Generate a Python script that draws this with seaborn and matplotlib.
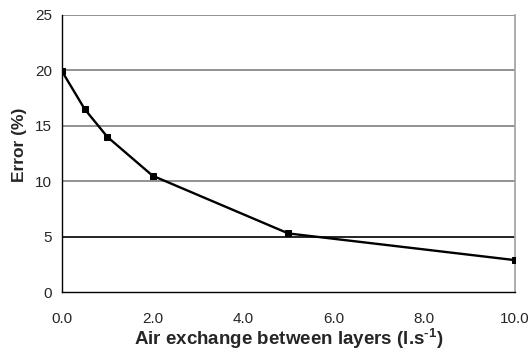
import matplotlib
matplotlib.use("Agg")
import matplotlib.pyplot as plt
import seaborn as sns
import pandas as pd

# Air exchange between layers (l/s) vs. resulting error (%)
air_exchange = [0.0, 0.5, 1.0, 2.0, 5.0, 10.0]
error_pct = [19.9, 16.5, 14.0, 10.5, 5.3, 2.9]

x_ticks = [0.0, 2.0, 4.0, 6.0, 8.0, 10.0]
y_ticks = [0, 5, 10, 15, 20, 25]

df = pd.DataFrame({"air": air_exchange, "error": error_pct})

sns.set_style("white")
plt.rcParams["font.family"] = ["Liberation Sans", "DejaVu Sans"]
plt.rcParams["mathtext.fontset"] = "custom"
plt.rcParams["mathtext.rm"] = "Liberation Sans:bold"
plt.rcParams["mathtext.bf"] = "Liberation Sans:bold"

fig = plt.figure(figsize=(5.31, 3.54), dpi=100)
ax = fig.add_axes([0.1168, 0.1743, 0.9693 - 0.1168, 0.9585 - 0.1743])

# horizontal gridlines
for v in y_ticks[1:]:
    ax.axhline(v, color="black" if v == 5 else "#7f7f7f", lw=1.2, zorder=1)

sns.lineplot(data=df, x="air", y="error", ax=ax, color="black", lw=1.7,
             marker="s", markersize=4.6, markeredgecolor="black", zorder=3)

ax.set_xlim(0, 10)
ax.set_ylim(0, 25)
ax.set_xticks(x_ticks)
ax.set_xticklabels([f"{t:.1f}" for t in x_ticks])
ax.set_yticks(y_ticks)
ax.tick_params(axis="both", direction="out", length=4, width=1, color="black",
               labelsize=11, pad=3)
ax.tick_params(axis="x", pad=10)

ax.spines["top"].set_visible(False)
ax.spines["right"].set_color("#a0a0a0")
ax.spines["right"].set_linewidth(1.2)
for s in ["left", "bottom"]:
    ax.spines[s].set_color("black")
    ax.spines[s].set_linewidth(1)

ax.set_xlabel(r"Air exchange between layers (l.s$^{\text{-1}}$)",
              fontsize=13.5, fontweight="bold", labelpad=0)
ax.set_ylabel("Error (%)", fontsize=12.5, fontweight="bold")
ax.yaxis.set_label_coords(-0.077, 0.532)

fig.savefig("out.png", dpi=100)
